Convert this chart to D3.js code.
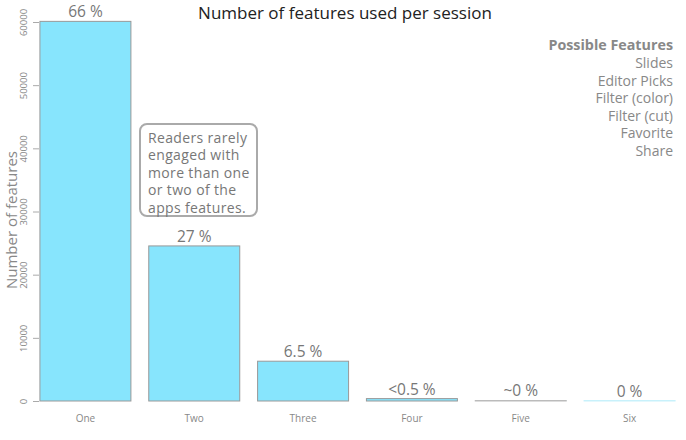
<!DOCTYPE html>
<html>
<head>
<meta charset="utf-8">
<script src="https://cdn.jsdelivr.net/npm/d3@7"></script>
<style>
  body { margin: 0; background: #fff; }
  svg { display: block; font-family: "Open Sans", sans-serif; }
</style>
</head>
<body>
<svg id="chart" width="686" height="440"></svg>
<script>
const categories = ["One", "Two", "Three", "Four", "Five", "Six"];
const values = [60100, 24550, 6300, 380, 80, 0];
const percentLabels = ["66 %", "27 %", "6.5 %", "<0.5 %", "~0 %", "0 %"];
const yTicks = [0, 10000, 20000, 30000, 40000, 50000, 60000];
const legendTitle = "Possible Features";
const legendItems = ["Slides", "Editor Picks", "Filter (color)", "Filter (cut)", "Favorite", "Share"];
const noteLines = ["Readers rarely", "engaged with", "more than one", "or two of the", "apps features."];
const chartTitle = "Number of features used per session";
const yTitle = "Number of features";

const svg = d3.select("#chart");

const x = d3.scaleBand().domain(categories).range([31, 684]).paddingInner(0.164).paddingOuter(0.082);
const y = d3.scaleLinear().domain([0, 60000]).range([401, 22]);

// y axis
const yAxis = svg.append("g").attr("transform", "translate(39,0)")
  .call(d3.axisLeft(y).tickValues(yTicks).tickSize(6).tickFormat(d3.format("d")));
yAxis.select(".domain").remove();
yAxis.selectAll(".tick line").attr("stroke", "#aaa");
yAxis.selectAll(".tick text")
  .attr("fill", "#888").attr("font-size", 9.5).attr("font-family", "Open Sans, sans-serif")
  .attr("transform", "rotate(-90)")
  .attr("x", 0).attr("y", -12).attr("dy", "0").attr("text-anchor", "middle");

// x labels
const xAxis = svg.append("g").attr("transform", "translate(0,401)")
  .call(d3.axisBottom(x).tickSize(0).tickPadding(14));
xAxis.select(".domain").remove();
xAxis.selectAll(".tick text").attr("fill", "#888").attr("font-size", 10).attr("font-family", "Open Sans, sans-serif");

// bars
svg.append("g").selectAll("rect").data(categories).join("rect")
  .attr("x", d => x(d))
  .attr("y", (d, i) => Math.min(y(values[i]), y(0) - 0.5))
  .attr("width", x.bandwidth())
  .attr("height", (d, i) => Math.max(y(0) - y(values[i]), 0.5))
  .attr("fill", "#87e5fd")
  .attr("stroke", (d, i) => values[i] === 0 ? "#c8f1fb" : (values[i] < 200 ? "#bbb" : "#999"))
  .attr("stroke-width", 1);

// percent labels
svg.append("g").selectAll("text").data(categories).join("text")
  .attr("x", d => x(d) + x.bandwidth() / 2)
  .attr("y", (d, i) => y(values[i]) - 4)
  .attr("text-anchor", "middle")
  .attr("font-size", 15.5)
  .attr("fill", "#777")
  .text((d, i) => percentLabels[i]);

// title
svg.append("text").attr("x", 345).attr("y", 19).attr("text-anchor", "middle")
  .attr("font-size", 17).attr("fill", "#222").text(chartTitle);

// y title
svg.append("text").attr("transform", "translate(17,220) rotate(-90)")
  .attr("text-anchor", "middle").attr("font-size", 15).attr("fill", "#888").text(yTitle);

// legend
const lg = svg.append("g").attr("font-size", 14).attr("fill", "#888").attr("text-anchor", "end");
lg.append("text").attr("x", 673).attr("y", 50).attr("font-weight", "bold").attr("font-size", 14.3).text(legendTitle);
lg.selectAll("text.item").data(legendItems).join("text").attr("class", "item")
  .attr("x", 673).attr("y", (d, i) => 68 + i * 17.5).text(d => d);

// annotation
svg.append("rect").attr("x", 140).attr("y", 124).attr("width", 117).attr("height", 92)
  .attr("rx", 7).attr("fill", "#fff").attr("stroke", "#aaa").attr("stroke-width", 2);
svg.append("g").selectAll("text").data(noteLines).join("text")
  .attr("x", 148).attr("y", (d, i) => 142.5 + i * 17.5)
  .attr("font-size", 14).attr("letter-spacing", 0.35).attr("fill", "#777").text(d => d);
</script>
</body>
</html>
